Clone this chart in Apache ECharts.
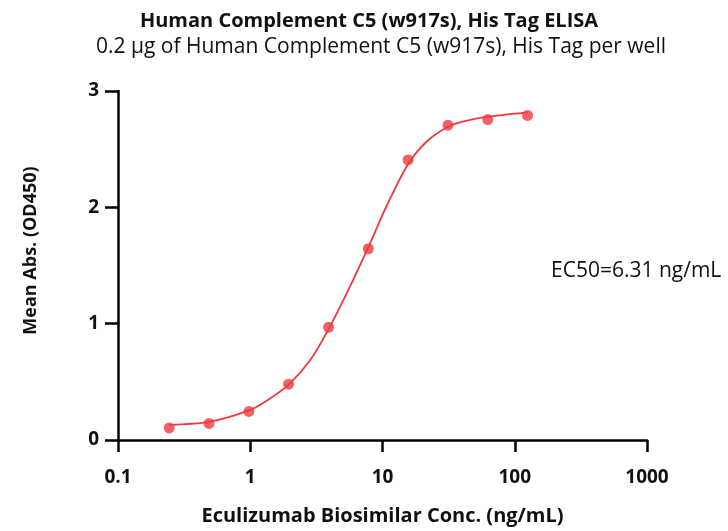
<!DOCTYPE html>
<html>
<head>
<meta charset="utf-8">
<script src="https://cdn.jsdelivr.net/npm/echarts@6/dist/echarts.min.js"></script>
<style>html,body{margin:0;padding:0;background:#fff;}#c{width:728px;height:531px;}</style>
</head>
<body>
<div id="c"></div>
<script>
// Data points (concentration ng/mL, mean OD450)
const concentrations = [0.244, 0.488, 0.977, 1.95, 3.91, 7.81, 15.6, 31.3, 62.5, 125];
const meanAbs = [0.104, 0.142, 0.246, 0.48, 0.969, 1.644, 2.407, 2.706, 2.754, 2.79];
// Fitted curve
const curveConc = [0.244, 0.486, 0.98, 1.34, 1.97, 2.85, 3.94, 5.72, 7.87, 10.8, 15.6, 21.7, 31.6, 43.5, 62.8, 126];
const curveAbs = [0.13, 0.155, 0.254, 0.339, 0.48, 0.69, 0.96, 1.327, 1.666, 2.018, 2.371, 2.568, 2.695, 2.746, 2.78, 2.817];
const yTicks = [0, 1, 2, 3];
const xTickLabels = ['0.1', '1', '10', '100', '1000'];
const titleText = 'Human Complement C5 (w917s), His Tag ELISA';
const subtitleText = '0.2 \u03bcg of Human Complement C5 (w917s), His Tag per well';
const ec50Text = 'EC50=6.31 ng/mL';

const FONT = '"Open Sans", Lato, sans-serif';
const RED = '#f0393f';

const chart = echarts.init(document.getElementById('c'), null, {renderer: 'canvas'});
chart.setOption({
  backgroundColor: '#fff',
  animation: false,
  title: [
    {text: titleText, left: 364, top: 6, textAlign: 'center',
     textStyle: {fontFamily: FONT, fontSize: 20, fontWeight: 'bold', color: '#111'}},
    {text: subtitleText, left: 376, top: 32, textAlign: 'center',
     textStyle: {fontFamily: FONT, fontSize: 21, fontWeight: 'normal', color: '#111'}}
  ],
  grid: {left: 118, right: 81, top: 91, bottom: 86, containLabel: false},
  xAxis: {
    type: 'log', logBase: 10, min: 0.1, max: 1000,
    name: 'Eculizumab Biosimilar Conc. (ng/mL)',
    nameLocation: 'middle', nameGap: 66,
    nameTextStyle: {fontFamily: FONT, fontSize: 20, fontWeight: 'bold', color: '#111'},
    axisLine: {show: true, onZero: false, lineStyle: {color: '#000', width: 2.5}},
    axisTick: {show: true, length: 12, inside: false, lineStyle: {color: '#000', width: 2.5}},
    minorTick: {show: false},
    splitLine: {show: false},
    axisLabel: {margin: 28, fontFamily: FONT, fontSize: 19, fontWeight: 'bold', color: '#111',
      formatter: function (v) {
        const i = Math.round(Math.log10(v)) + 1;
        return xTickLabels[i] !== undefined ? xTickLabels[i] : '';
      }}
  },
  yAxis: {
    type: 'value', min: 0, max: 3, interval: 1,
    name: 'Mean Abs. (OD450)',
    nameLocation: 'middle', nameGap: 78,
    nameTextStyle: {fontFamily: FONT, fontSize: 18, fontWeight: 'bold', color: '#111',
      padding: [0, 0, 0, 30]},
    axisLine: {show: true, lineStyle: {color: '#000', width: 2.5}},
    axisTick: {show: true, length: 13, lineStyle: {color: '#000', width: 2.5}},
    splitLine: {show: false},
    axisLabel: {margin: 19, fontFamily: FONT, fontSize: 19, fontWeight: 'bold', color: '#111',
      formatter: function (v) { return yTicks.indexOf(v) >= 0 ? String(v) : ''; }}
  },
  graphic: [
    {type: 'text', left: 551, top: 261,
     style: {text: ec50Text, fontFamily: FONT, fontSize: 21, fill: '#111'}}
  ],
  series: [
    {
      type: 'line', name: 'fit',
      data: curveConc.map((c, i) => [c, curveAbs[i]]),
      smooth: 0.3,
      showSymbol: false, symbol: 'none',
      lineStyle: {color: RED, width: 1.8},
      z: 2
    },
    {
      type: 'scatter', name: 'data',
      data: concentrations.map((c, i) => [c, meanAbs[i]]),
      symbol: 'circle', symbolSize: 11,
      itemStyle: {color: RED},
      z: 3
    }
  ]
});
</script>
</body>
</html>
